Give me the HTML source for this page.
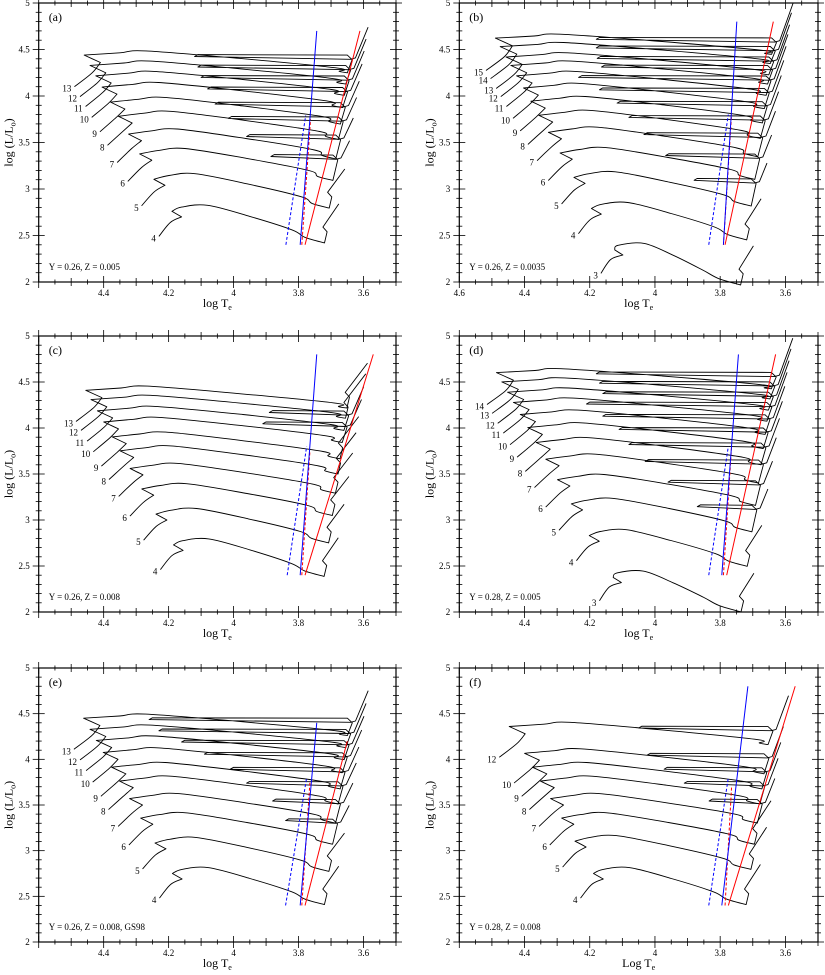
<!DOCTYPE html>
<html><head><meta charset="utf-8"><style>
html,body{margin:0;padding:0;background:#fff;}
svg{display:block;font-family:"Liberation Serif",serif;}
</style></head><body>
<svg id="c" width="825" height="975" viewBox="0 0 825 975" xmlns="http://www.w3.org/2000/svg"></svg>
<script>
// ---- data ----
const panelIds = ['a','b','c','d','e','f'];
const panelNotes = ['Y = 0.26, Z = 0.005','Y = 0.26, Z = 0.0035','Y = 0.26, Z = 0.008','Y = 0.28, Z = 0.005','Y = 0.26, Z = 0.008, GS98','Y = 0.28, Z = 0.008'];
const massesA = [4,5,6,7,8,9,10,11,12,13];
const peakLA  = [2.83,3.17,3.44,3.65,3.84,3.99,4.15,4.27,4.38,4.49];
const loopTA  = [null,null,3.875,3.95,4.006,4.047,4.07,4.09,4.10,4.11];
const massesB = [3,4,5,6,7,8,9,10,11,12,13,14,15];
const peakLB  = [2.42,2.86,3.19,3.45,3.67,3.85,4.00,4.14,4.27,4.38,4.47,4.58,4.67];
const loopTB  = [null,null,3.87,3.957,4.024,4.07,4.106,4.16,4.224,4.154,4.167,4.17,4.17];
const massesC = [4,5,6,7,8,9,10,11,12,13];
const peakLC  = [2.80,3.13,3.40,3.62,3.81,3.96,4.12,4.24,4.36,4.46];
const loopTC  = [null,null,null,null,null,null,3.90,3.88,null,null];
const massesD = [3,4,5,6,7,8,9,10,11,12,13,14];
const peakLD  = [2.45,2.90,3.24,3.50,3.72,3.90,4.06,4.20,4.33,4.44,4.55,4.65];
const loopTD  = [null,null,3.86,3.95,4.02,4.07,4.10,4.15,4.20,4.15,4.16,4.17];
const massesE = [4,5,6,7,8,9,10,11,12,13];
const peakLE  = [2.82,3.15,3.42,3.63,3.82,3.97,4.13,4.26,4.38,4.50];
const loopTE  = [null,null,3.83,3.87,3.95,4.0,4.08,4.15,4.22,4.25];
const massesF = [4,5,6,7,8,9,10,12];
const peakLF  = [2.82,3.17,3.42,3.63,3.82,3.97,4.12,4.41];
const loopTF  = [null,null,null,3.824,3.90,3.962,4.014,4.04];
// instability strip edges: [T at L=2.4, T at top, top L]
const blueSolid = [[3.795,3.744,4.70],[3.79,3.749,4.80],[3.795,3.744,4.80],[3.795,3.744,4.80],[3.795,3.744,4.40],[3.795,3.715,4.80]];
const redSolid  = [[3.78,3.611,4.70],[3.785,3.637,4.80],[3.78,3.570,4.80],[3.78,3.630,4.80],[3.78,3.650,4.20],[3.775,3.570,4.80]];
const blueDash  = [[3.839,3.778,3.79],[3.835,3.775,3.80],[3.835,3.775,3.80],[3.835,3.775,3.80],[3.84,3.775,3.80],[3.835,3.775,3.80]];
const redDash   = [[3.79,3.763,3.75],[3.79,3.765,3.80],[3.79,3.765,3.75],[3.79,3.765,3.80],[3.79,3.765,3.75],[3.785,3.765,3.70]];
const xTicks = [4.4,4.2,4.0,3.8,3.6];
const xTickLabels = ['4.4','4.2','4','3.8','3.6'];
const yTicks = [2,2.5,3,3.5,4,4.5,5];
const yTickLabels = ['2','2.5','3','3.5','4','4.5','5'];

const tracksData = [[massesA,peakLA,loopTA],[massesB,peakLB,loopTB],[massesC,peakLC,loopTC],[massesD,peakLD,loopTD],[massesE,peakLE,loopTE],[massesF,peakLF,loopTF]];
const frames = [[38.7,3,396,282],[459.3,3,818,282],[38.7,336,396,612],[459.3,336,818,612],[38.7,668,396,942],[459.3,668,818,942]];

const NS='http://www.w3.org/2000/svg';
const svg=document.getElementById('c');
function mk(tag,attrs,parent){const e=document.createElementNS(NS,tag);for(const k in attrs)e.setAttribute(k,attrs[k]);(parent||svg).appendChild(e);return e;}
function smooth(P){
  let d='M'+P[0][0].toFixed(1)+','+P[0][1].toFixed(1);
  for(let i=0;i<P.length-1;i++){
    const p0=P[Math.max(0,i-1)],p1=P[i],p2=P[i+1],p3=P[Math.min(P.length-1,i+2)];
    const c1=[p1[0]+(p2[0]-p0[0])/6,p1[1]+(p2[1]-p0[1])/6];
    const c2=[p2[0]-(p3[0]-p1[0])/6,p2[1]-(p3[1]-p1[1])/6];
    d+='C'+c1[0].toFixed(1)+','+c1[1].toFixed(1)+' '+c2[0].toFixed(1)+','+c2[1].toFixed(1)+' '+p2[0].toFixed(1)+','+p2[1].toFixed(1);
  }
  return d;
}

frames.forEach((fr,pi)=>{
  const [x0,y0,x1,y1]=fr;
  const X=t=>x0+(4.6-t)/1.1*(x1-x0);
  const Y=l=>y1-(l-2)/3*(y1-y0);
  const g=mk('g',{});
  
  
  for(let t=3.5;t<=4.6001;t+=0.05){
    const tt=Math.round(t*100)/100;
    const major=Math.abs(tt*5-Math.round(tt*5))<1e-6;
    const mid=Math.abs(tt*10-Math.round(tt*10))<1e-6;
    const len=major?6:(mid?4:2.5);
    const x=X(tt);
    mk('line',{x1:x,y1:y1-len,x2:x,y2:y1+len,stroke:'#000','stroke-width':0.8},g);
    mk('line',{x1:x,y1:y0-len,x2:x,y2:y0+len,stroke:'#000','stroke-width':0.8},g);
  }
  for(let l=2;l<=5.0001;l+=0.1){
    const ll=Math.round(l*10)/10;
    const major=Math.abs(ll*2-Math.round(ll*2))<1e-6;
    const len=major?6:3;
    const y=Y(ll);
    mk('line',{x1:x0-len,y1:y,x2:x0+len,y2:y,stroke:'#000','stroke-width':0.8},g);
    mk('line',{x1:x1-len,y1:y,x2:x1+len,y2:y,stroke:'#000','stroke-width':0.8},g);
  }
  const fr2=mk('rect',{x:x0,y:y0,width:x1-x0,height:y1-y0,fill:'none',stroke:'#000','stroke-width':1.2},g);
  
  
  xTicks.forEach((t,i)=>{
    const tx=mk('text',{x:X(t),y:y1+14,'font-size':9,'text-anchor':'middle'},g);
    tx.textContent=xTickLabels[i];
    
    
  });
  if(pi===1){const tx=mk('text',{x:X(4.6),y:y1+14,'font-size':9,'text-anchor':'middle'},g);tx.textContent='4.6';
    
    }
  yTicks.forEach((l,i)=>{
    const tx=mk('text',{x:x0-9,y:Y(l)+3,'font-size':9,'text-anchor':'end'},g);
    tx.textContent=yTickLabels[i];
    
    
  });
  const xt=mk('text',{x:(x0+x1)/2,y:y1+25,'font-size':12,'text-anchor':'middle'},g);
  xt.innerHTML=(pi===5?'Log T':'log T')+'<tspan font-size="8" dy="3">e</tspan>';
  
  
  const yc=(y0+y1)/2;
  const yt=mk('text',{x:0,y:0,'font-size':12,'text-anchor':'middle',transform:`translate(${x0-26},${yc}) rotate(-90)`},g);
  yt.innerHTML='log (L/L<tspan font-size="8" dy="3">o</tspan><tspan dy="-3">)</tspan>';
  
  
  const pl=mk('text',{x:x0+10,y:y0+18,'font-size':12},g);
  pl.textContent='('+panelIds[pi]+')';
  
  
  const nt=mk('text',{x:x0+10,y:y1-12,'font-size':9},g);
  nt.textContent=panelNotes[pi];
  
  

  const [ms,pk,lt]=tracksData[pi];
  ms.forEach((m,i)=>{
    const p=pk[i];
    const f=(p-2.83)/1.66;
    const pT=4.14+f*0.19;
    const hT=pT+0.05+0.08*f;
    const sT=pT+0.09+0.07*f, sL=p-0.34-0.05*f;
    const ms1=[[sT,sL],[sT-0.035-0.02*f,sL+0.15],[pT+0.02+0.06*f,p-0.13]];
    const ms2=[[pT+0.02+0.06*f,p-0.13],[hT,p-0.07+0.02*f]];
    const eT=3.82-0.14*f, eL=p-0.27+0.08*f;
    const mT=3.72-0.07*f, mL=p-0.41+0.17*f;
    const aT=pT-0.06, aL=p-0.005;
    const ms3=[[hT,p-0.07+0.02*f],[pT+0.02,p-0.025],[aT,aL],[aT+(eT-aT)*0.5,aL+(eL-aL)*0.45],[eT,eL],[(eT+mT)/2+0.01,(eL+mL)/2-0.01],[mT,mL]];
    const tT=3.676-0.09*f;
    let tL=p-0.02+0.27*f+(pi%2===1?0.05:0);
    tL=Math.max(tL,mL+0.42);
    const rest=[[mT,mL]];
    if(lt[i]!==null){
      const lL=p-0.06-0.04*(1-f);
      const rT=mT-0.02;
      rest.push([rT+0.005,lL-0.04]);
      rest.push([rT+0.02,lL+0.01]);
      rest.push([lt[i],lL+0.015]);
      rest.push([lt[i]+0.01,lL-0.005]);
      rest.push([rT+0.01,lL-0.035]);
      rest.push([rT-0.005,lL-0.02]);
    } else {
      rest.push([mT-0.008,mL+0.12]);
      rest.push([mT+0.005,mL+0.17]);
    }
    rest.push([tT,tL]);
    const toPx=a=>a.map(q=>[X(q[0]),Y(q[1])]);
    let d=smooth(toPx(ms1));
    d+=' '+smooth(toPx(ms2)).replace('M','L');
    d+=' '+smooth(toPx(ms3)).replace('M','L');
    toPx(rest).forEach((q,k)=>{if(k) d+='L'+q[0].toFixed(1)+','+q[1].toFixed(1);});
    const path=mk('path',{d:d,fill:'none',stroke:'#000','stroke-width':0.9,'stroke-linejoin':'round'},g);
    
    
    const lb=mk('text',{x:X(sT)-3,y:Y(sL)+5,'font-size':9,'text-anchor':'end'},g);
    lb.textContent=String(m);
    
    
  });
  const strip=(arr,col,dash,name)=>{
    const a=arr[pi];
    const ln=mk('line',{x1:X(a[0]),y1:Y(2.4),x2:X(a[1]),y2:Y(a[2]),stroke:col,'stroke-width':1,'stroke-dasharray':dash},g);
    
    
  };
  strip(blueDash,'#00f','3,2','blue-edge-dashed');
  strip(redDash,'#f00','3,2','red-edge-dashed');
  strip(blueSolid,'#00f','none','blue-edge');
  strip(redSolid,'#f00','none','red-edge');
});
</script>
</body></html>
